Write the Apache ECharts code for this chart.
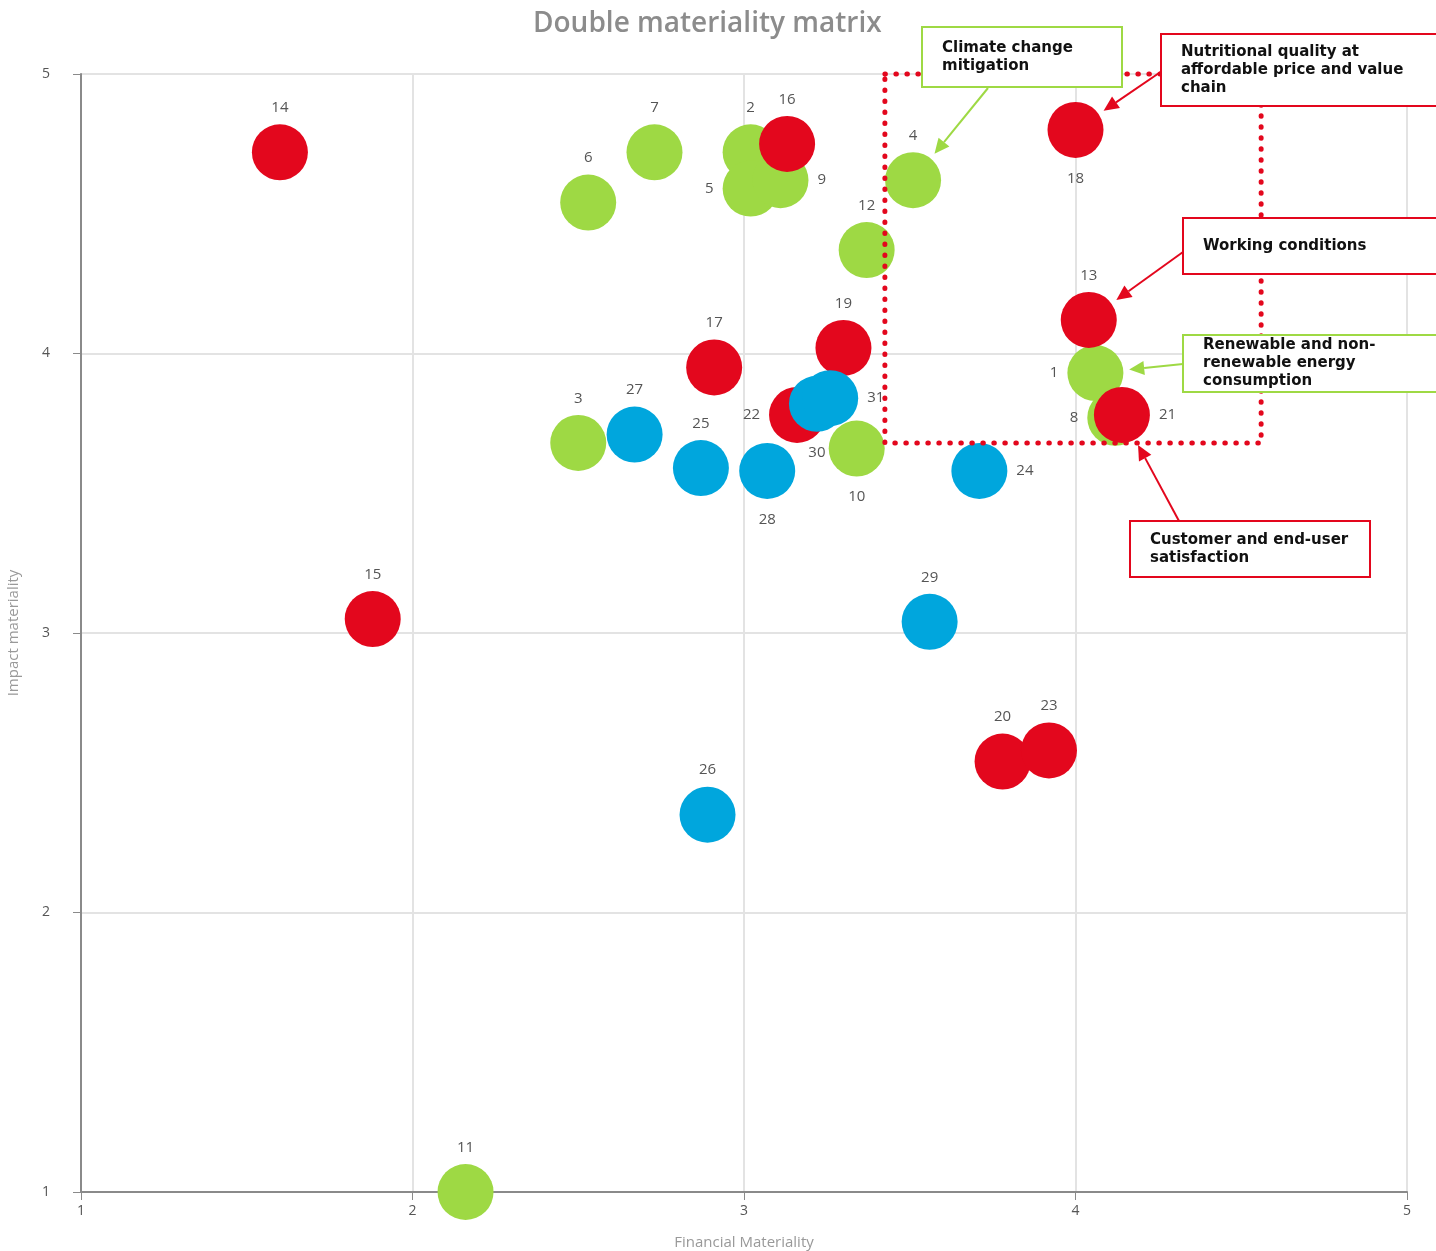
<!DOCTYPE html>
<html>
<head>
<meta charset="utf-8">
<script src="https://cdn.jsdelivr.net/npm/echarts@6/dist/echarts.min.js"></script>
<style>
  html, body { margin: 0; padding: 0; background: #fff; }
  #chart { width: 1436px; height: 1251px; }
</style>
</head>
<body>
<div id="chart"></div>
<script>
// topics: id, financial materiality (x), impact materiality (y)
var envIds = [1, 2, 3, 4, 5, 6, 7, 8, 9, 10, 11, 12];
var envX = [4.06, 3.02, 2.50, 3.51, 3.02, 2.53, 2.73, 4.12, 3.11, 3.34, 2.16, 3.37];
var envY = [3.93, 4.72, 3.68, 4.62, 4.59, 4.54, 4.72, 3.77, 4.62, 3.66, 1.00, 4.37];

var socIds = [13, 14, 15, 16, 17, 18, 19, 20, 21, 22, 23];
var socX = [4.04, 1.60, 1.88, 3.13, 2.91, 4.00, 3.30, 3.78, 4.14, 3.16, 3.92];
var socY = [4.12, 4.72, 3.05, 4.75, 3.95, 4.80, 4.02, 2.54, 3.78, 3.78, 2.58];

var govIds = [24, 25, 26, 27, 28, 29, 30, 31];
var govX = [3.71, 2.87, 2.89, 2.67, 3.07, 3.56, 3.22, 3.26];
var govY = [3.58, 3.59, 2.35, 3.71, 3.58, 3.04, 3.82, 3.84];

var axisTicks = [1, 2, 3, 4, 5];

// highlighted zone (dotted frame)
var zoneX = [3.425, 4.56];
var zoneY = [3.68, 5];

// callouts: text, colour, target topic
var callouts = [
  { text: "Climate change\nmitigation", color: "#9ed944", target: 4 },
  { text: "Nutritional quality at\naffordable price and value\nchain", color: "#e3071d", target: 18 },
  { text: "Working conditions", color: "#e3071d", target: 13 },
  { text: "Renewable and non-\nrenewable energy\nconsumption", color: "#9ed944", target: 1 },
  { text: "Customer and end-user\nsatisfaction", color: "#e3071d", target: 21 }
];

// label placement (style only)
var labelSide = {
  9: "right", 21: "right", 24: "right", 31: "right",
  5: "left", 1: "left", 8: "left", 22: "left",
  18: "bottom", 10: "bottom", 28: "bottom", 30: "bottom"
};

// callout box layout in pixels
var boxLayout = [
  { x: 922, y: 27, w: 200, h: 60, tx: 20, from: [988, 88] },
  { x: 1161, y: 34, w: 290, h: 72, tx: 20, from: [1162, 71] },
  { x: 1183, y: 218, w: 270, h: 56, tx: 20, from: [1183, 252] },
  { x: 1183, y: 335, w: 270, h: 57, tx: 20, from: [1183, 364] },
  { x: 1130, y: 521, w: 240, h: 56, tx: 20, from: [1179, 521] }
];

var fontFam = "Open Sans, Noto Sans, sans-serif";

function buildData(ids, xs, ys) {
  return ids.map(function (id, i) {
    var side = labelSide[id] || "top";
    return {
      value: [xs[i], ys[i], id],
      label: { position: side, distance: side === "bottom" ? 13 : 9 }
    };
  });
}

function makeSeries(name, color, ids, xs, ys) {
  return {
    name: name,
    type: "scatter",
    symbolSize: 56,
    clip: false,
    itemStyle: { color: color, opacity: 1 },
    label: {
      show: true,
      color: "#555",
      fontSize: 15,
      fontFamily: fontFam,
      formatter: function (p) { return p.value[2]; }
    },
    emphasis: { disabled: true },
    data: buildData(ids, xs, ys)
  };
}

var myChart = echarts.init(document.getElementById("chart"));

var option = {
  animation: false,
  title: {
    text: "Double materiality matrix",
    left: 528,
    top: 5,
    textStyle: { fontSize: 28, fontWeight: 600, color: "#8c8c8c", fontFamily: fontFam }
  },
  grid: { left: 81, right: 29, top: 74, bottom: 59, outerBoundsMode: "none", containLabel: false },
  xAxis: {
    type: "value",
    min: axisTicks[0],
    max: axisTicks[axisTicks.length - 1],
    interval: 1,
    name: "Financial Materiality",
    nameLocation: "middle",
    nameGap: 43,
    nameTextStyle: { color: "#999", fontSize: 15, fontFamily: fontFam },
    axisLine: { lineStyle: { color: "#8a8a8a", width: 2 } },
    axisTick: { show: true, length: 8, lineStyle: { color: "#8a8a8a" } },
    axisLabel: { color: "#555", fontSize: 14, margin: 12, fontFamily: fontFam },
    splitLine: { lineStyle: { color: "#e3e3e3", width: 2 } }
  },
  yAxis: {
    type: "value",
    min: axisTicks[0],
    max: axisTicks[axisTicks.length - 1],
    interval: 1,
    name: "Impact materiality",
    nameLocation: "middle",
    nameGap: 60,
    nameTextStyle: { color: "#999", fontSize: 15, fontFamily: fontFam },
    axisLine: { show: true, lineStyle: { color: "#8a8a8a", width: 2 } },
    axisTick: { show: true, length: 8, lineStyle: { color: "#8a8a8a" } },
    axisLabel: { color: "#555", fontSize: 14, margin: 31, fontFamily: fontFam },
    splitLine: { lineStyle: { color: "#e3e3e3", width: 2 } }
  },
  series: [
    makeSeries("Environment", "#9ed944", envIds, envX, envY),
    makeSeries("Social", "#e3071d", socIds, socX, socY),
    makeSeries("Governance", "#00a6dd", govIds, govX, govY)
  ]
};

myChart.setOption(option);

function findPoint(id) {
  var all = [[envIds, envX, envY], [socIds, socX, socY], [govIds, govX, govY]];
  for (var s = 0; s < all.length; s++) {
    var k = all[s][0].indexOf(id);
    if (k >= 0) return [all[s][1][k], all[s][2][k]];
  }
  return null;
}

var graphics = [];

// dotted zone frame
var p1 = myChart.convertToPixel({ gridIndex: 0 }, [zoneX[0], zoneY[1]]);
var p2 = myChart.convertToPixel({ gridIndex: 0 }, [zoneX[1], zoneY[0]]);
graphics.push({
  type: "rect",
  z: 50,
  shape: { x: p1[0], y: p1[1], width: p2[0] - p1[0], height: p2[1] - p1[1] },
  style: { fill: null, stroke: "#e3071d", lineWidth: 5, lineDash: [0.5, 10.5], lineCap: "round" }
});

callouts.forEach(function (c, i) {
  var b = boxLayout[i];
  var pt = myChart.convertToPixel({ gridIndex: 0 }, findPoint(c.target));
  var dx = b.from[0] - pt[0], dy = b.from[1] - pt[1];
  var len = Math.sqrt(dx * dx + dy * dy);
  var ux = dx / len, uy = dy / len;
  var tip = [pt[0] + ux * 34, pt[1] + uy * 34];
  var base = [tip[0] + ux * 15, tip[1] + uy * 15];
  var px = -uy * 7, py = ux * 7;

  graphics.push({
    type: "line", z: 60,
    shape: { x1: b.from[0], y1: b.from[1], x2: base[0], y2: base[1] },
    style: { stroke: c.color, lineWidth: 2 }
  });
  graphics.push({
    type: "polygon", z: 60,
    shape: { points: [tip, [base[0] + px, base[1] + py], [base[0] - px, base[1] - py]] },
    style: { fill: c.color }
  });
  graphics.push({
    type: "rect", z: 100,
    shape: { x: b.x, y: b.y, width: b.w, height: b.h },
    style: { fill: "#fff", stroke: c.color, lineWidth: 2 }
  });
  graphics.push({
    type: "text", z: 101,
    x: b.x + b.tx,
    y: b.y + b.h / 2,
    style: {
      text: c.text,
      fill: "#111",
      font: "bold 15px DejaVu Sans, sans-serif",
      lineHeight: 18,
      verticalAlign: "middle",
      align: "left"
    }
  });
});

myChart.setOption({ graphic: graphics });
</script>
</body>
</html>
